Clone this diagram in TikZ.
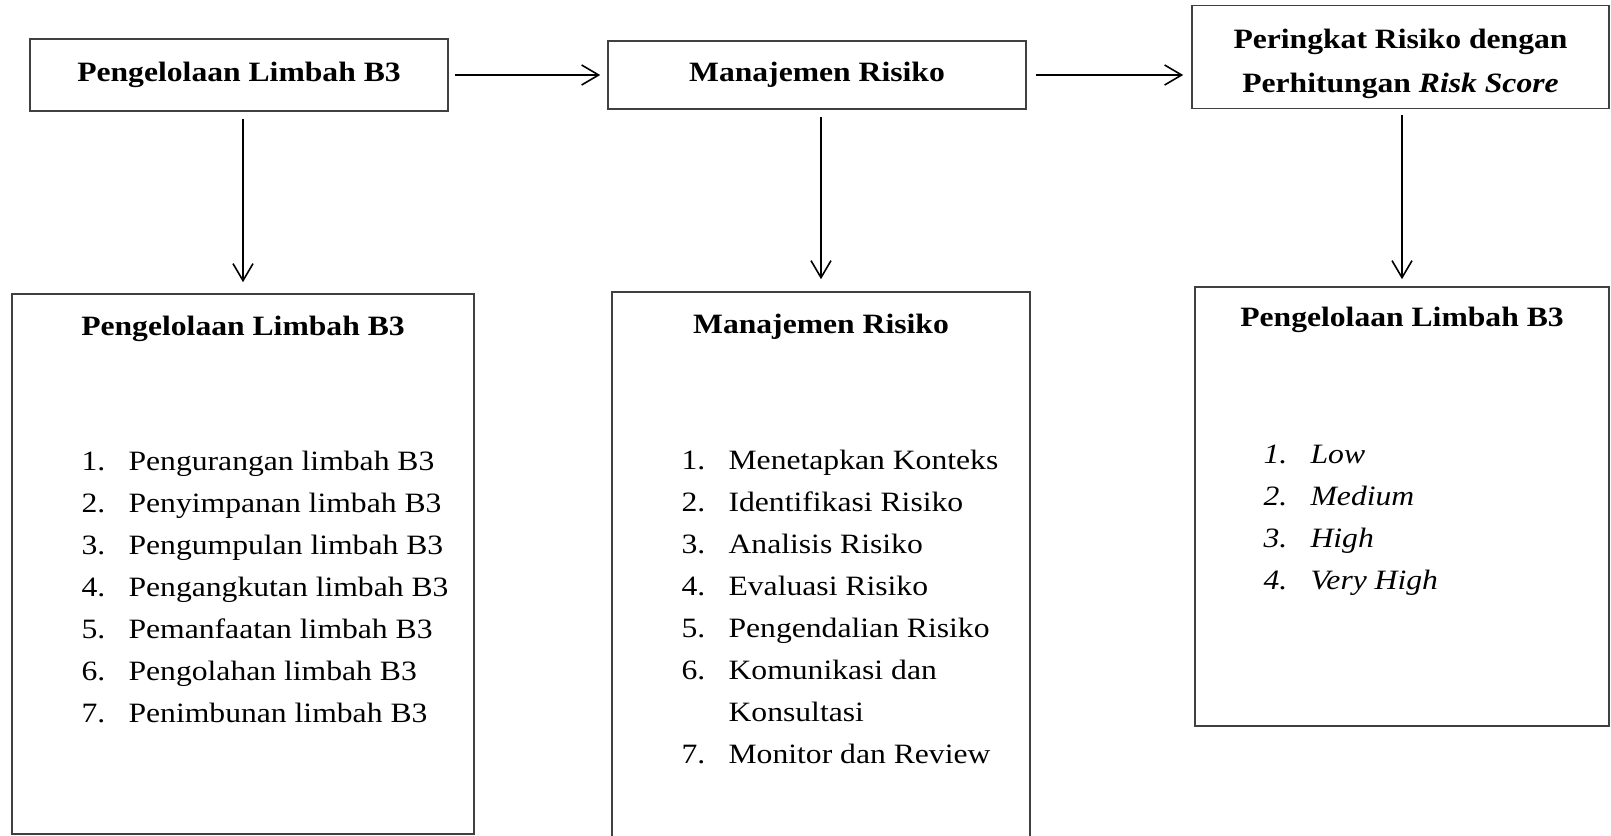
\documentclass[tikz,border=0pt]{standalone}
\usepackage{fontspec}
\setmainfont{Liberation Serif}[FakeStretch=1.13]
\usetikzlibrary{arrows.meta,positioning}
\newcommand{\listno}[1]{\makebox[23.5pt][l]{#1}}

\begin{document}
\begin{tikzpicture}[x=0.5pt,y=-0.5pt,>={Straight Barb[length=8.5pt,width=10pt]},on grid,font=\fontsize{14}{21}\selectfont]
          \useasboundingbox (0,0) rectangle (1611,835);
          \tikzset{box/.style={draw=black!75,line width=0.8pt,inner sep=0pt}}
          \tikzset{head/.style={font=\fontsize{14}{21}\selectfont\bfseries,align=center}}
          \tikzset{items/.style={anchor=north west,inner sep=0pt,align=left}}
          \tikzset{link/.style={->,line width=0.8pt}}
          % top row
          \node[box,head,minimum width=209pt,minimum height=36pt]   (limbah) at (239,75)                        {Pengelolaan Limbah B3};
          \node[box,head,minimum width=209pt,minimum height=34pt]   (manrisk)   [right=289pt of limbah]         {Manajemen Risiko};
          \node[box,minimum width=208.5pt,minimum height=51.5pt]    (peringkat) [above right=9pt and 291.75pt of manrisk] {};
          \node[head] (peringkattext) at ([yshift=-3.3pt]peringkat.center) {Peringkat Risiko dengan\\[1pt]Perhitungan \textit{Risk Score}};
          % lower boxes
          \node[box,minimum width=231pt,minimum height=270pt]     (limbahbox)    [below=244.5pt of limbah,xshift=2pt]      {};
          \node[box,minimum width=209pt,minimum height=304pt]     (manriskbox)   [below=260.5pt of manrisk,xshift=2pt]     {};
          \node[box,minimum width=207pt,minimum height=219.5pt]   (peringkatbox) [below=224.75pt of peringkat,xshift=0.75pt] {};
          \node[head] (limbahtitle)    at ([yshift=-17.6pt]limbahbox.north)    {Pengelolaan Limbah B3};
          \node[head] (manrisktitle)   at ([yshift=-17.6pt]manriskbox.north)   {Manajemen Risiko};
          \node[head] (peringkattitle) at ([yshift=-17pt]peringkatbox.north)   {Pengelolaan Limbah B3};
          \node[items] (limbahlist) at ([shift={(70,157)}]limbahbox.north west)
               {\listno{1.}Pengurangan limbah B3\\\listno{2.}Penyimpanan limbah B3\\\listno{3.}Pengumpulan limbah B3\\\listno{4.}Pengangkutan limbah B3\\\listno{5.}Pemanfaatan limbah B3\\\listno{6.}Pengolahan limbah B3\\\listno{7.}Penimbunan limbah B3};
          \node[items] (manrisklist) at ([shift={(70,158)}]manriskbox.north west)
               {\listno{1.}Menetapkan Konteks\\\listno{2.}Identifikasi Risiko\\\listno{3.}Analisis Risiko\\\listno{4.}Evaluasi Risiko\\\listno{5.}Pengendalian Risiko\\\listno{6.}Komunikasi dan\\\listno{}Konsultasi\\\listno{7.}Monitor dan Review};
          \node[items,font=\fontsize{14}{21}\selectfont\itshape] (peringkatlist) at ([shift={(69,158)}]peringkatbox.north west)
               {\listno{1.}Low\\\listno{2.}Medium\\\listno{3.}High\\\listno{4.}Very High};
          % connectors
          \draw[link,shorten <=3pt,shorten >=3.5pt] (limbah.east) -- (manrisk.west);
          \draw[link,shorten <=4.5pt,shorten >=4pt] (manrisk.east) -- (manrisk.east -| peringkat.west);
          \draw[link,shorten <=3.5pt,shorten >=5.5pt] (limbahbox.north |- limbah.south) -- (limbahbox.north);
          \draw[link,shorten <=3.5pt,shorten >=6pt] (manriskbox.north |- manrisk.south) -- (manriskbox.north);
          \draw[link,shorten <=3pt,shorten >=3.5pt] (peringkatbox.north |- peringkat.south) -- (peringkatbox.north);
\end{tikzpicture}
\end{document}
